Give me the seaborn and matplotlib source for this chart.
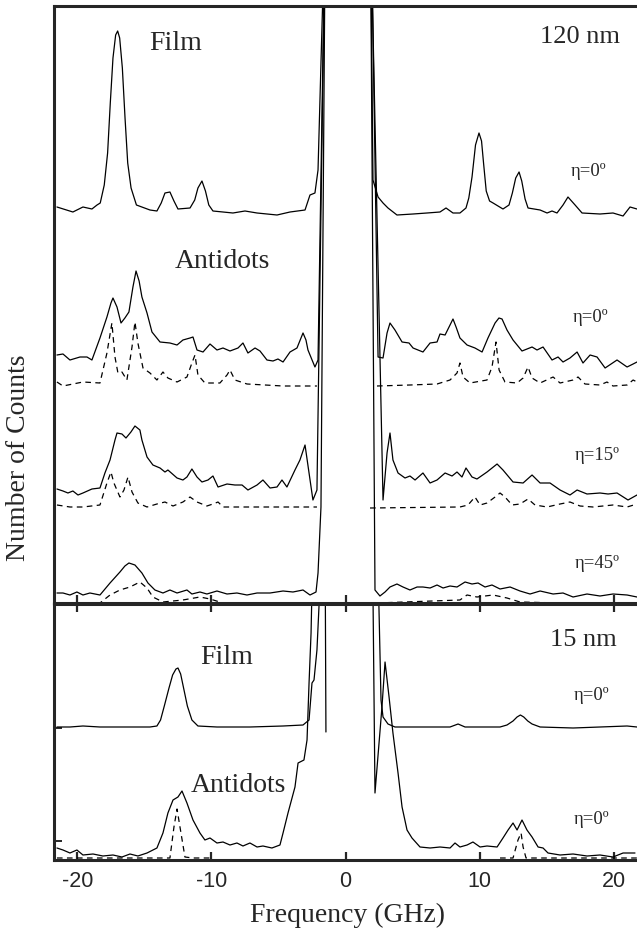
import matplotlib
matplotlib.use("Agg")
import matplotlib.pyplot as plt
import seaborn as sns
import pandas as pd

# ---------------- data (frequency in GHz, counts in arbitrary stacked units) ----------------
# 120 nm panel
film120_f = [-21.53, -20.34, -19.59, -18.92, -18.54, -18.3, -18.0, -17.75, -17.55, -17.35, -17.15, -17.0,
             -16.85, -16.65, -16.45, -16.25, -16.0, -15.6, -14.59, -14.07, -13.75, -13.47, -13.1, -12.8,
             -12.5, -11.6, -11.25, -11.01, -10.71, -10.45, -10.2, -9.89, -8.4, -7.5, -6.6, -5.11, -4.14,
             -3.02, -2.65, -2.28, -2.05, -1.5,
             1.85, 2.05, 2.43, 2.8, 3.17, 3.84, 5.04, 6.08, 7.05, 7.5, 8.02, 8.54, 8.99, 9.2, 9.44, 9.7, 9.96,
             10.15, 10.3, 10.5, 10.75, 11.01, 11.75, 12.2, 12.45, 12.7, 12.95, 13.15, 13.4, 13.62, 14.52, 15.04,
             15.41, 15.78, 16.23, 16.6, 17.13, 17.65, 18.99, 19.96, 20.71, 21.23, 21.75]
film120_c = [396, 391, 396, 394, 398, 400, 418, 450, 500, 545, 568, 572,
             565, 535, 485, 440, 415, 398, 393, 392, 400, 410, 411, 402,
             394, 395, 403, 415, 422, 412, 398, 392, 390, 392, 390, 388, 391,
             393, 408, 410, 433, 700,
             700, 423, 406, 400, 395, 388, 389, 390, 391, 395, 390, 390, 395, 405, 426, 458, 470,
             462, 440, 412, 402, 400, 394, 398, 410, 425, 431, 422, 404, 395, 393, 390,
             392, 390, 398, 406, 398, 390, 389, 390, 387, 396, 394]

anti0_f = [-21.53, -21.08, -20.56, -19.81, -19.29, -18.92, -18.32, -17.8, -17.5, -17.35, -17.05, -16.75,
           -16.46, -16.16, -15.86, -15.63, -15.4, -15.19, -14.81, -14.44, -13.84, -13.1, -12.57, -12.13,
           -11.6, -11.38, -11.08, -10.63, -10.11, -9.59, -9.14, -8.62, -8.02, -7.65, -7.28, -6.75, -6.38,
           -5.86, -5.41, -5.04, -4.66, -4.14, -3.62, -3.35, -3.17, -2.95, -2.8, -2.28, -2.05, -1.5,
           1.9, 2.43, 2.8, 3.1, 3.32, 3.69, 4.22, 4.74, 5.04, 5.78, 6.31, 6.83, 7.05, 7.43, 7.8, 8.02, 8.25,
           8.54, 9.07, 9.66, 10.19, 10.63, 11.16, 11.45, 11.68, 12.05, 12.5, 13.17, 13.92, 14.29, 14.74,
           15.41, 15.86, 16.23, 16.75, 17.28, 17.72, 18.25, 18.77, 19.37, 20.26, 21.01, 21.46, 21.75]
anti0_c = [248, 249, 243, 246, 246, 243, 265, 286, 300, 305, 296, 280,
           285, 291, 316, 332, 322, 306, 290, 271, 261, 260, 258, 263,
           265, 266, 253, 251, 259, 253, 255, 252, 255, 260, 250, 255, 252,
           243, 242, 244, 241, 251, 255, 264, 270, 263, 253, 236, 243, 700,
           700, 246, 245, 270, 280, 273, 261, 260, 255, 251, 260, 261, 269, 268, 278, 284, 276,
           265, 258, 255, 251, 265, 280, 285, 284, 273, 263, 252, 256, 253, 256,
           243, 246, 241, 245, 251, 240, 248, 246, 235, 243, 236, 239, 241]

anti0_sim_f = [-21.53, -21.08, -19.59, -18.32, -17.8, -17.43, -17.2, -16.98, -16.68, -16.31, -15.93, -15.71,
               -15.49, -15.11, -14.59, -14.07, -13.62, -13.25, -12.57, -11.83, -11.46, -11.23, -11.01, -10.49,
               -9.37, -8.84, -8.62, -8.25, -7.35, -4.66, -2.13,
               2.35, 4.81, 6.83, 7.8, 8.32, 8.54, 8.77, 9.29, 10.56, 10.93, 11.23, 11.46, 11.9, 12.8, 13.25,
               13.62, 13.92, 14.52, 15.49, 16.01, 16.98, 17.35, 17.87, 18.99, 19.51, 19.96, 21.01, 21.46, 21.75]
anti0_sim_c = [221, 217, 221, 220, 250, 280, 246, 230, 231, 223, 256, 281,
               260, 235, 230, 223, 231, 225, 221, 226, 240, 248, 228, 220,
               220, 228, 233, 223, 219, 217, 217,
               217, 218, 219, 223, 230, 240, 226, 220, 223, 236, 261, 233, 221, 220, 225,
               236, 225, 220, 226, 220, 223, 226, 219, 218, 221, 217, 218, 223, 221]

anti15_f = [-21.53, -21.08, -20.71, -20.34, -19.96, -19.59, -18.92, -18.32, -17.95, -17.57, -17.2, -17.05,
            -16.68, -16.38, -16.01, -15.71, -15.34, -15.19, -14.81, -14.37, -13.84, -13.47, -13.25, -12.57,
            -12.13, -11.83, -11.46, -11.08, -10.71, -10.26, -9.89, -9.51, -8.84, -8.25, -7.72, -7.28, -6.6,
            -6.16, -5.63, -5.11, -4.74, -4.37, -3.77, -3.4, -3.02, -2.72, -2.43, -2.13, -1.5,
            1.85, 2.8, 3.1, 3.32, 3.54, 3.92, 4.44, 4.81, 5.19, 5.78, 6.31, 6.83, 7.43, 7.95, 8.32, 8.69,
            8.99, 9.44, 9.81, 10.56, 11.31, 11.75, 12.5, 13.25, 13.92, 14.52, 15.26, 16.01, 16.75, 17.28,
            18.02, 18.99, 19.59, 20.26, 21.08, 21.75]
anti15_c = [114, 112, 110, 112, 108, 110, 114, 115, 130, 143, 163, 170,
            169, 165, 171, 177, 173, 163, 146, 138, 135, 131, 133, 125,
            123, 126, 134, 126, 121, 123, 127, 116, 119, 118, 118, 113, 118,
            123, 115, 116, 123, 116, 133, 143, 158, 130, 103, 113, 700,
            700, 103, 150, 170, 143, 130, 125, 127, 123, 130, 120, 123, 130, 127, 131, 126,
            135, 126, 124, 131, 139, 133, 121, 120, 128, 120, 120, 113, 108, 113,
            109, 110, 109, 110, 103, 108]

anti15_sim_f = [-21.53, -20.56, -19.59, -18.32, -17.8, -17.5, -17.28, -16.83, -16.53, -16.23, -15.93, -15.49,
                -14.81, -14.07, -13.47, -12.87, -12.13, -11.6, -11.08, -10.34, -9.89, -9.51, -9.14, -7.13, -2.13,
                1.83, 8.54, 9.14, 9.66, 10.04, 10.56, 11.16, 11.53, 11.9, 12.43, 13.02, 13.62, 14.14, 15.04,
                16.01, 16.75, 17.5, 18.47, 19.96, 21.01, 21.75]
anti15_sim_c = [98, 96, 96, 98, 120, 131, 120, 106, 113, 126, 111, 100,
                96, 99, 101, 97, 101, 106, 101, 97, 99, 101, 96, 96, 96,
                95, 96, 98, 106, 98, 100, 106, 110, 106, 98, 99, 104, 98, 96,
                99, 101, 97, 96, 98, 96, 99]

anti45_f = [-21.53, -21.08, -20.56, -20.04, -19.59, -19.07, -18.32, -17.57, -16.83, -16.46, -16.16, -15.71,
            -15.19, -14.74, -14.22, -13.62, -13.1, -12.57, -11.83, -11.46, -10.86, -10.34, -9.59, -8.84,
            -8.1, -7.35, -6.6, -5.63, -4.66, -3.92, -3.17, -2.65, -2.2, -2.05, -1.83, -1.5,
            1.85, 2.2, 2.57, 2.95, 3.32, 3.84, 4.29, 4.81, 5.34, 5.78, 6.31, 6.83, 7.28, 7.8, 8.32, 8.92,
            9.44, 9.89, 10.41, 10.93, 11.53, 12.28, 13.02, 13.77, 14.52, 15.49, 16.23, 16.98, 18.02, 18.99,
            19.96, 21.01, 21.75]
anti45_c = [10, 10, 8, 11, 8, 10, 8, 20, 31, 37, 40, 38,
            30, 20, 13, 10, 13, 10, 13, 9, 11, 9, 12, 9,
            10, 8, 10, 10, 12, 11, 13, 8, 11, 30, 96, 700,
            700, 13, 7, 11, 16, 19, 16, 13, 16, 16, 15, 18, 15, 17, 16, 21,
            19, 20, 16, 18, 14, 16, 12, 9, 12, 9, 10, 6, 9, 7,
            9, 8, 6]

anti45_sim_f = [-21.53, -18.32, -17.57, -16.83, -16.08, -15.34, -14.81, -14.37, -13.62, -12.13, -10.86, -10.11,
                -9.14, -7.13, -2.13,
                2.35, 8.54, 9.07, 9.81, 11.01, 12.05, 13.02, 16.01, 21.75]
anti45_sim_c = [0, 0, 8, 13, 16, 21, 15, 6, 1, 3, 6, 4,
                0, 0, 0,
                0, 3, 8, 6, 8, 5, 1, 0, 0]

# 15 nm panel
film15_f = [-21.53, -20.56, -19.59, -18.32, -17.05, -15.86, -14.59, -14.07, -13.8, -13.5, -13.17, -12.9,
            -12.65, -12.5, -12.3, -12.05, -11.8, -11.46, -11.01, -9.59, -7.13, -4.66, -3.17, -2.72, -2.5,
            -2.35, -2.13, -1.98, -1.7, -1.55, -1.46,
            2.25, 2.65, 2.8, 3.17, 3.69, 5.78, 7.8, 8.4, 8.92, 11.53, 12.05, 12.5, 12.8, 13.05, 13.3, 13.6,
            13.92, 14.52, 16.98, 18.99, 21.01, 21.75]
film15_c = [133, 133, 134, 133, 133, 133, 133, 134, 140, 155, 172, 185,
            191, 192, 186, 170, 154, 140, 134, 133, 133, 134, 135, 140, 177,
            180, 210, 253, 400, 400, 128,
            400, 160, 143, 136, 133, 133, 133, 136, 133, 133, 135, 139, 143, 145, 143, 139,
            136, 133, 132, 133, 134, 133]

anti15nm_f = [-21.53, -21.08, -20.56, -20.04, -19.59, -18.84, -18.1, -17.35, -16.68, -16.08, -15.49, -14.81,
              -14.07, -13.62, -13.25, -12.87, -12.5, -12.2, -11.83, -11.38, -10.86, -10.49, -10.11, -9.59,
              -9.14, -8.62, -8.1, -7.65, -7.13, -6.6, -6.16, -5.49, -4.89, -4.66, -4.29, -3.77, -3.54, -3.1,
              -2.87, -2.72, -2.57, -2.3,
              1.95, 2.2, 2.72, 2.95, 3.25, 3.54, 3.92, 4.22, 4.59, 4.96, 5.56, 6.31, 7.05, 7.8, 8.17, 8.54,
              9.07, 9.51, 10.04, 10.56, 11.31, 11.75, 12.13, 12.5, 12.8, 13.17, 13.54, 13.92, 14.37, 14.74,
              15.11, 16.01, 16.98, 18.02, 18.99, 19.96, 20.71, 21.6]
anti15nm_c = [12, 10, 7, 10, 5, 6, 4, 5, 3, 6, 4, 7,
              12, 27, 47, 60, 63, 69, 57, 40, 27, 20, 22, 17,
              18, 15, 17, 14, 17, 13, 14, 12, 15, 27, 47, 73, 97, 100,
              120, 177, 227, 400,
              400, 67, 153, 198, 163, 127, 87, 53, 30, 22, 13, 12, 13, 12, 17, 13,
              15, 18, 13, 14, 13, 22, 30, 37, 30, 40, 30, 23, 13, 12,
              7, 5, 6, 4, 5, 3, 7, 7]

anti15nm_sim_f = [-21.53, -14.07, -13.1, -12.8, -12.57, -12.35, -11.98, -11.38, -10.11,
                  11.53, 12.5, 12.87, 13.1, 13.25, 13.47, 14.52, 21.75]
anti15nm_sim_c = [2, 2, 2, 33, 51, 33, 3, 2, 2,
                  2, 2, 20, 27, 13, 2, 2, 2]

xticks = [-20, -10, 0, 10, 20]
xtick_labels = ["-20", "-10", "0", "10", "20"]

# ---------------- style ----------------
sns.set_style("ticks")
plt.rcParams["font.family"] = ["Liberation Serif", "DejaVu Serif"]
plt.rcParams["axes.linewidth"] = 2.2

W, H = 637, 933
fig = plt.figure(figsize=(W / 100, H / 100), dpi=100)
ax_top = fig.add_axes([54 / W, 1 - 603 / H, (W - 54) / W, (603 - 6) / H])
ax_bot = fig.add_axes([54 / W, 1 - 860 / H, (W - 54) / W, (860 - 604) / H])

XLIM = (-21.75, 21.75)


def draw(ax, f, c, dashed=False):
    df = pd.DataFrame({"f": f, "c": c})
    parts = [df[df.f < 0], df[df.f > 0]]
    for p in parts:
        if len(p) < 2:
            continue
        sns.lineplot(data=p, x="f", y="c", ax=ax, estimator=None, sort=False,
                     color="black", lw=0.9,
                     linestyle=(0, (4.5, 3.5)) if dashed else "-")


for f, c, d in [(film120_f, film120_c, False), (anti0_f, anti0_c, False), (anti0_sim_f, anti0_sim_c, True),
                (anti15_f, anti15_c, False), (anti15_sim_f, anti15_sim_c, True),
                (anti45_f, anti45_c, False), (anti45_sim_f, anti45_sim_c, True)]:
    draw(ax_top, f, c, d)

for f, c, d in [(film15_f, film15_c, False), (anti15nm_f, anti15nm_c, False),
                (anti15nm_sim_f, anti15nm_sim_c, True)]:
    draw(ax_bot, f, c, d)

ax_top.set_xlim(*XLIM)
ax_top.set_ylim(0, 597)
ax_bot.set_xlim(*XLIM)
ax_bot.set_ylim(0, 256)

for ax in (ax_top, ax_bot):
    ax.spines["right"].set_visible(False)
    ax.set_xlabel("")
    ax.set_ylabel("")
    ax.set_xticks(xticks)

ax_top.set_yticks([])
ax_top.tick_params(axis="x", direction="in", length=6, width=1.6, labelbottom=False)
ax_bot.set_yticks([19, 132])
ax_bot.set_yticklabels([])
ax_bot.tick_params(axis="y", direction="in", length=6, width=1.4)
ax_bot.tick_params(axis="x", direction="in", length=6, width=1.6, top=True, pad=8,
                   labelsize=15.5)
ax_bot.set_xticklabels(xtick_labels, family=["Liberation Sans", "DejaVu Sans"])


def txt(x, y, s, size, **kw):
    fig.text(x / W, 1 - y / H, s, fontsize=size, ha="center", va="center", **kw)


txt(176, 43, "Film", 20)
txt(580, 37, "120 nm", 19)
txt(589, 171, "η=0º", 13.5)
txt(222, 261, "Antidots", 20)
txt(591, 317, "η=0º", 13.5)
txt(597, 456, "η=15º", 13.5)
txt(597, 563, "η=45º", 13.5)
txt(583, 640, "15 nm", 19)
txt(227, 657, "Film", 20)
txt(592, 696, "η=0º", 13.5)
txt(238, 786, "Antidots", 20)
txt(592, 819, "η=0º", 13.5)

txt(348, 915, "Frequency (GHz)", 20)
txt(19, 458, "Number of Counts", 20, rotation=90)

fig.savefig("out.png", dpi=100)
